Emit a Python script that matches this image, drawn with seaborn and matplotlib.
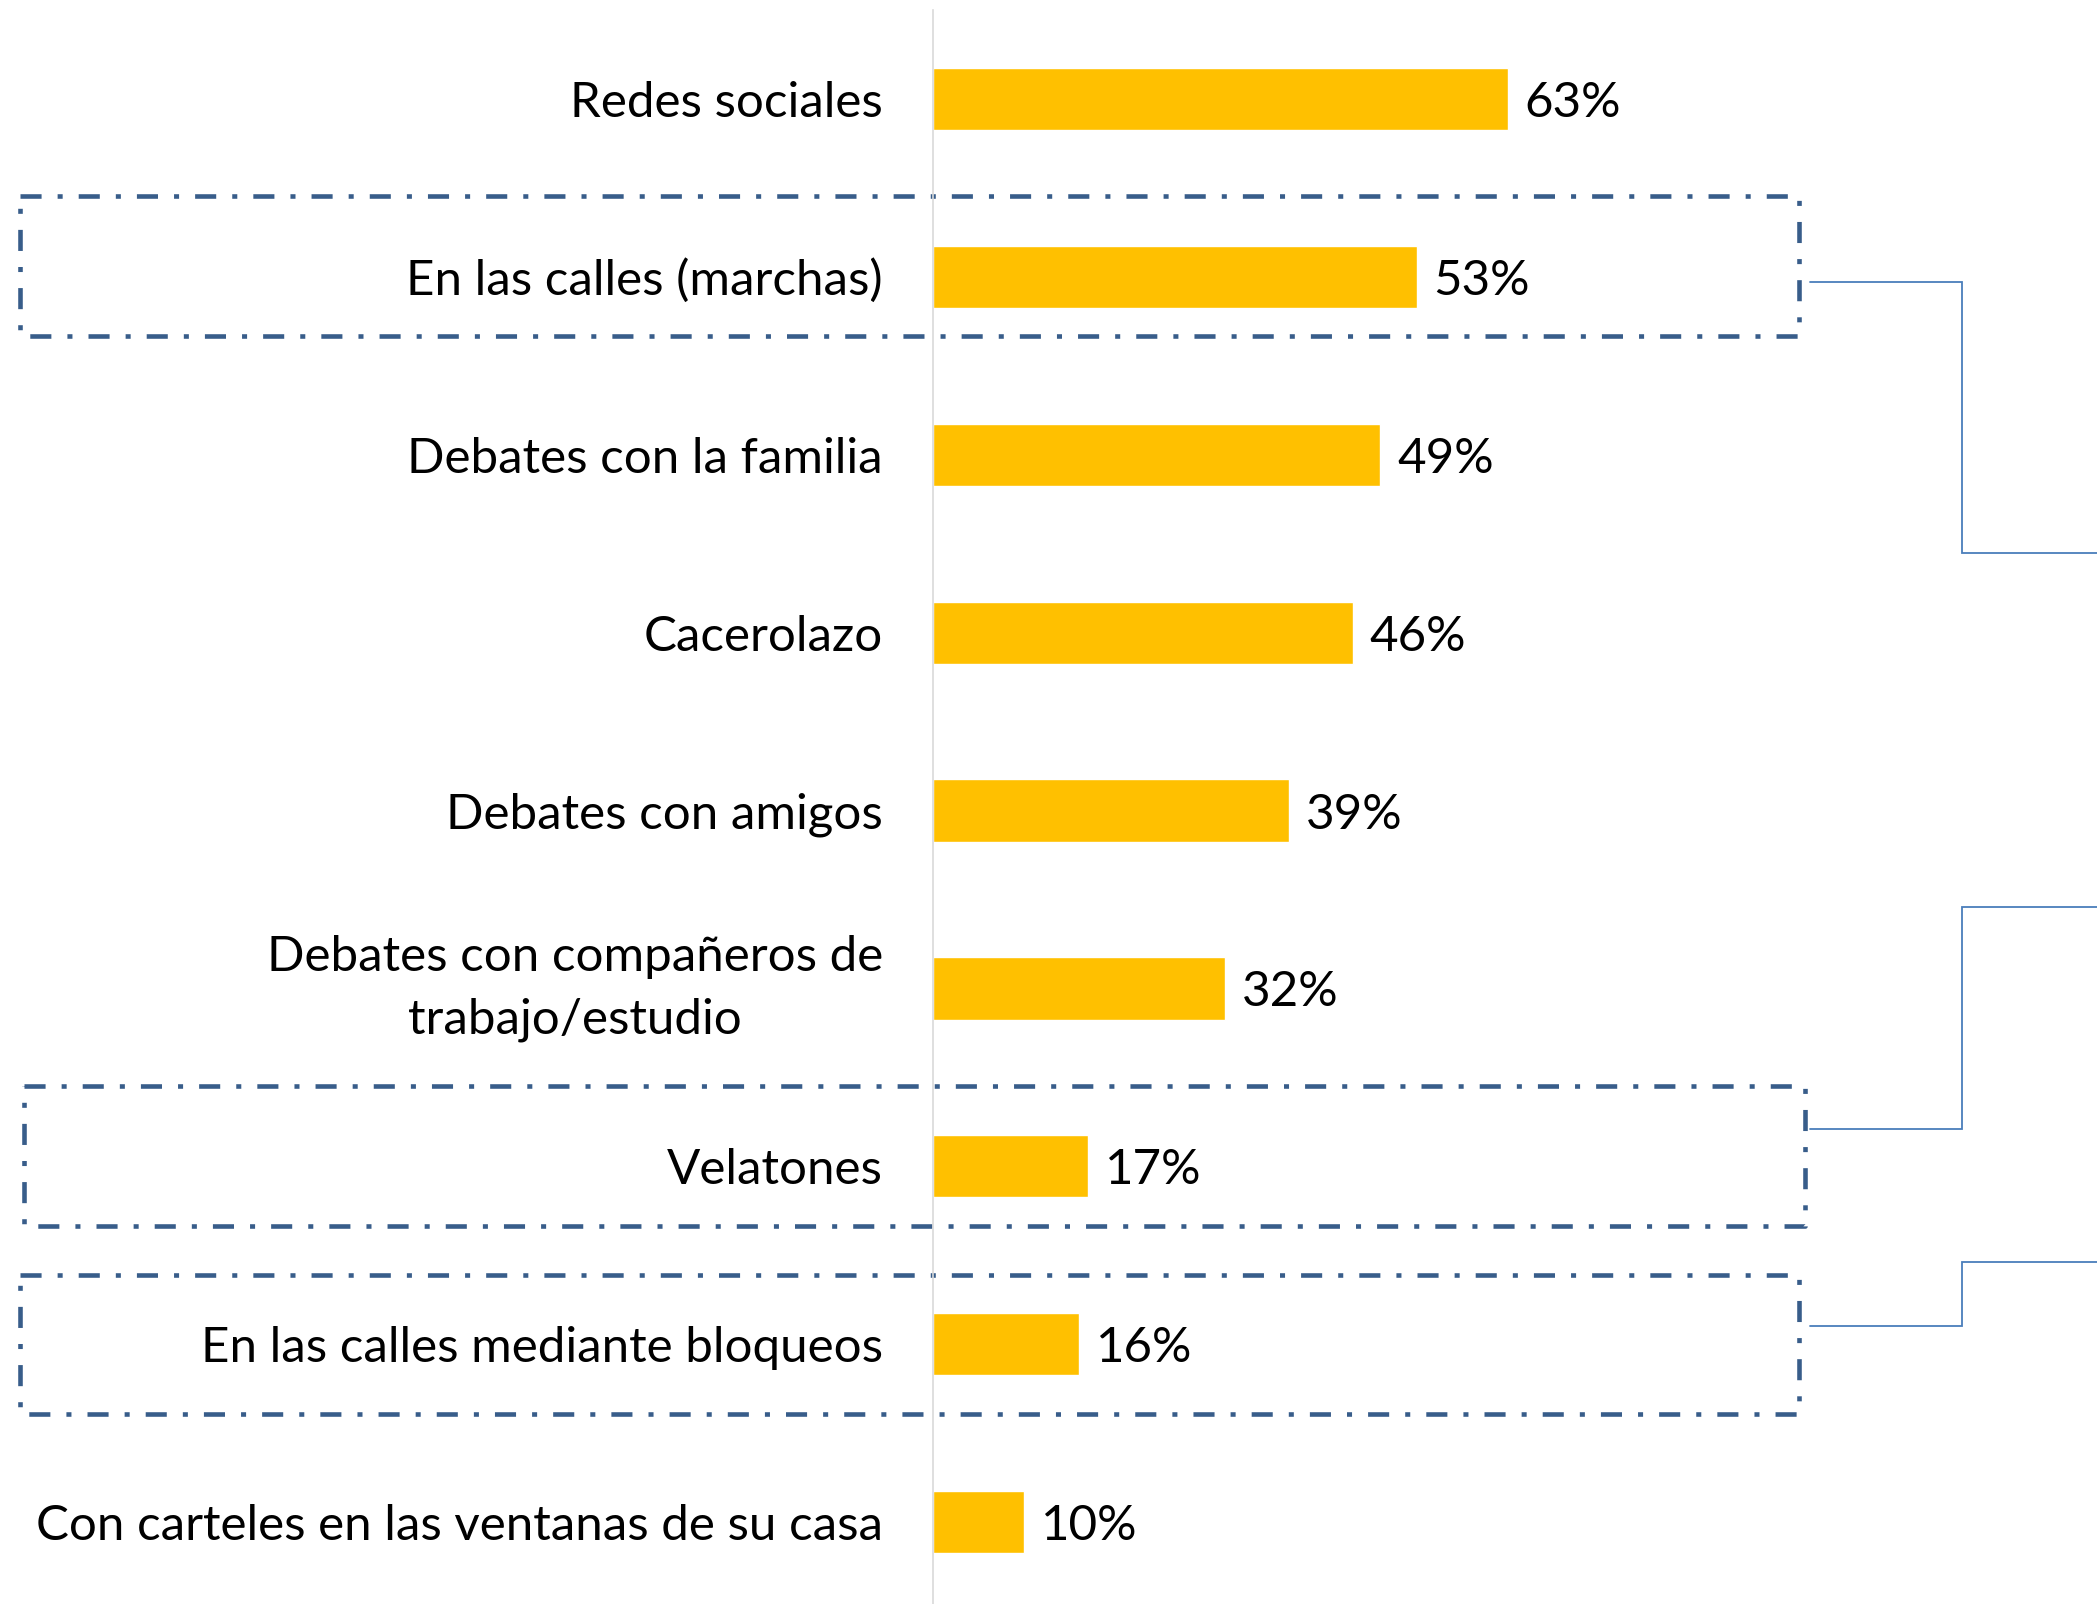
import matplotlib
matplotlib.use("Agg")
import matplotlib.pyplot as plt
import matplotlib.transforms as mtransforms
import seaborn as sns

# ---- data ----
categories = [
    "Redes sociales",
    "En las calles (marchas)",
    "Debates con la familia",
    "Cacerolazo",
    "Debates con amigos",
    "Debates con compañeros de\ntrabajo/estudio",
    "Velatones",
    "En las calles mediante bloqueos",
    "Con carteles en las ventanas de su casa",
]
values = [63, 53, 49, 46, 39, 32, 17, 16, 10]
value_labels = [f"{v}%" for v in values]

# highlighted rows (index of category) and their connector path heights (data y)
boxed_rows = [1, 6, 7]
connector_y = [(1.03, 2.55), (5.79, 4.54), (6.90, 6.54)]

sns.set_style("white")
plt.rcParams["font.family"] = ["Lato", "DejaVu Sans"]
plt.rcParams["text.color"] = "black"
plt.rcParams["ytick.color"] = "black"

W, H = 2097, 1604
FS = 35.5
fig = plt.figure(figsize=(W / 100, H / 100), dpi=100)
ax = fig.add_axes([933 / W, 0, 1 - 933 / W, 1 - 10 / H])

sns.barplot(x=values, y=categories, orient="h", color="#FFC000",
            width=0.35, saturation=1, ax=ax)

ax.set_xlim(0, (W - 933) / 9.13)
ax.set_ylim(8.46, -0.5)
texts = ax.bar_label(ax.containers[0], labels=value_labels, padding=12,
                     fontsize=FS, color="black")
for t in texts:
    t.set_va("center_baseline")

for s in ["top", "right", "bottom"]:
    ax.spines[s].set_visible(False)
ax.spines["left"].set_color("#d9d9d9")
ax.spines["left"].set_linewidth(1.2)
ax.set_xticks([])
ax.set_xlabel("")
ax.set_ylabel("")
ax.tick_params(axis="y", length=0, pad=36, labelsize=FS, labelcolor="black")
for t in ax.get_yticklabels():
    t.set_multialignment("center")
    t.set_linespacing(1.5)
    if "\n" in t.get_text():
        t.set_va("center")

# dashed highlight boxes and connectors (x in figure pixels, y in data units)
trans = mtransforms.blended_transform_factory(fig.transFigure, ax.transData)
box_x = [(20, 1799), (24, 1805), (20, 1799)]
box_dy = [(-0.455, 0.332), (-0.452, 0.334), (-0.39, 0.39)]
for row, (x0, x1), (d0, d1), (ya, yb) in zip(boxed_rows, box_x, box_dy, connector_y):
    bx = [x0 / W, x1 / W, x1 / W, x0 / W, x0 / W]
    by = [row + d0, row + d0, row + d1, row + d1, row + d0]
    ax.plot(bx, by, transform=trans, color="#385d8a", linewidth=3.3,
            dashes=(4.6, 3.5, 1.1, 3.5), dash_capstyle="butt", clip_on=False)
    xs = [1810 / W, 1962 / W, 1962 / W, 1.0]
    ys = [ya, ya, yb, yb]
    ax.plot(xs, ys, transform=trans, color="#4a7ebb", linewidth=1.3,
            clip_on=False, solid_joinstyle="miter")

fig.savefig("out.png", dpi=100)
